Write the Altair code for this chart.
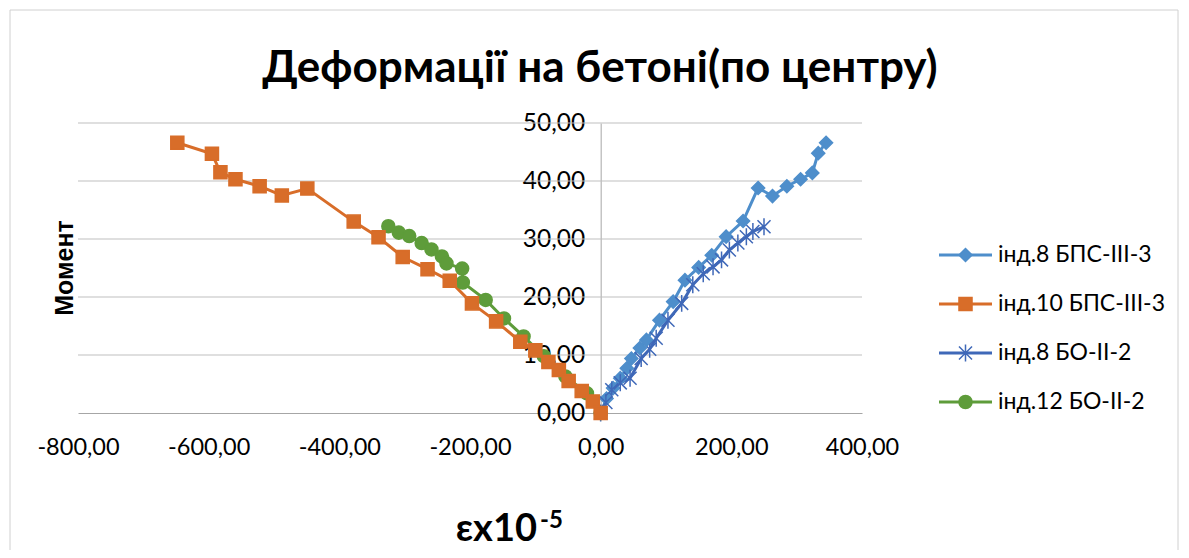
import altair as alt
import pandas as pd

series_names = ["інд.8 БПС-III-3", "інд.10 БПС-III-3", "інд.8 БО-II-2", "інд.12 БО-II-2"]

s1_x = [0, 9, 19, 30, 40, 47, 60, 70, 90, 111, 129, 150, 170, 192, 218, 241, 263, 285, 306, 324, 333, 345]
s1_y = [0, 2.5, 4.3, 6.0, 7.7, 9.4, 11.2, 12.6, 16.0, 19.2, 22.9, 25.1, 27.2, 30.4, 33.1, 38.8, 37.4, 39.1, 40.3, 41.4, 44.8, 46.6]

s2_x = [-648, -595, -582, -559, -522, -488, -449, -378, -340, -303, -265, -231, -197, -160, -123, -100, -80, -64, -49, -29, -12, 0]
s2_y = [46.6, 44.7, 41.5, 40.3, 39.1, 37.5, 38.7, 33.0, 30.3, 26.9, 24.8, 22.8, 18.9, 15.8, 12.3, 10.8, 8.8, 7.4, 5.5, 3.8, 2.0, 0]

s3_x = [0, 8, 17, 30, 45, 62, 75, 85, 103, 124, 141, 157, 172, 185, 197, 210, 223, 233, 250]
s3_y = [0, 1.8, 4.0, 5.2, 6.0, 9.4, 11.0, 12.9, 16.0, 18.9, 22.1, 24.0, 25.2, 26.4, 28.1, 29.3, 30.4, 31.3, 32.1]

s4_x = [-325, -309, -293, -274, -259, -243, -236, -212, -211, -176, -148, -118, -87, -54, -21, 0]
s4_y = [32.2, 31.1, 30.5, 29.3, 28.2, 27.0, 25.8, 24.9, 22.5, 19.5, 16.3, 13.2, 9.8, 6.3, 3.4, 0]

x_ticks = [-800, -600, -400, -200, 0, 200, 400]
y_ticks = [0, 10, 20, 30, 40, 50]

chart_title = "Деформації на бетоні(по центру)"
y_title = "Момент"
x_title_main = "εx10"
x_title_sup = "-5"

rows = []
for name, xs, ys in zip(series_names, [s1_x, s2_x, s3_x, s4_x], [s1_y, s2_y, s3_y, s4_y]):
    for i, (xv, yv) in enumerate(zip(xs, ys)):
        rows.append({"series": name, "idx": i, "x": xv, "y": yv})
df = pd.DataFrame(rows)
leg_df = pd.DataFrame({"series": series_names})
one = pd.DataFrame({"a": [0]})
grid_df = pd.DataFrame({"v": y_ticks[1:]})

W, H = 784, 290
colors = ["#4E8ECB", "#D86D29", "#3F68B8", "#5E9C3A"]
shapes = ["diamond", "square", "M-1,-1L1,1M1,-1L-1,1M0,-1.3L0,1.3", "circle"]
sizes = [170, 170, 120, 150]

color_scale = alt.Scale(domain=series_names, range=colors)
shape_scale = alt.Scale(domain=series_names, range=shapes)
size_scale = alt.Scale(domain=series_names, range=sizes)
x_scale = alt.Scale(domain=[-800, 400], nice=False, zero=False)
y_scale = alt.Scale(domain=[0, 50], nice=False)

lab = "replace(replace(format(datum.value, '.2f'), '.', ','), '\u2212', '-')"
LABEL_FONT = "Lato"

x_axis = alt.Axis(values=x_ticks, labelExpr=lab, grid=False, ticks=False, domainColor="#A6A6A6",
                  labelFont=LABEL_FONT, labelFontSize=23.5, labelColor="#000000", labelPadding=22,
                  title=None, labelFlush=False, labelOverlap=False)
y_axis = alt.Axis(values=y_ticks, labelExpr=lab, grid=False, ticks=False, domainColor="#A6A6A6",
                  labelFont=LABEL_FONT, labelFontSize=24.5, labelColor="#000000", labelPadding=16,
                  title=None, offset=-W * 800 / 1200, labelOverlap=False)


def X(field):
    return alt.X(field, scale=x_scale, axis=x_axis)


def Y(field, axis=None):
    return alt.Y(field, scale=y_scale, axis=axis)


col = alt.Color("series:N", scale=color_scale, legend=None)

grid = alt.Chart(grid_df).mark_rule(color="#BFBFBF", strokeWidth=1).encode(
    y=Y("v:Q"), x=alt.value(0), x2=alt.value(W))

lines = alt.Chart(df).mark_line(strokeWidth=3).encode(
    x=X("x:Q"), y=Y("y:Q", y_axis), color=col, detail="series:N", order="idx:Q")

points = alt.Chart(df).mark_point(filled=True, opacity=1, strokeWidth=1.5).encode(
    x=X("x:Q"), y=Y("y:Q"), color=col,
    stroke=alt.Stroke("series:N", scale=color_scale, legend=None),
    shape=alt.Shape("series:N", scale=shape_scale, legend=None),
    size=alt.Size("series:N", scale=size_scale, legend=None),
    order="idx:Q")

leg_y = alt.Y("series:N", scale=alt.Scale(type="point", domain=series_names, range=[132, 279], padding=0), axis=None)
LX = 861
leg_rule = alt.Chart(leg_df).mark_rule(strokeWidth=3).encode(
    y=leg_y, x=alt.value(LX), x2=alt.value(LX + 53), color=col)
leg_pt = alt.Chart(leg_df).mark_point(filled=True, opacity=1, strokeWidth=1.5).encode(
    y=leg_y, x=alt.value(LX + 26.5), color=col,
    stroke=alt.Stroke("series:N", scale=color_scale, legend=None),
    shape=alt.Shape("series:N", scale=shape_scale, legend=None),
    size=alt.Size("series:N", scale=size_scale, legend=None))
leg_txt = alt.Chart(leg_df).mark_text(align="left", baseline="middle", font=LABEL_FONT, fontSize=23,
                                      color="#000000").encode(
    y=leg_y, x=alt.value(LX + 59), text="series:N")

frame = alt.Chart(one).mark_rect(fill=None, stroke="#D0D0D0", strokeWidth=1).encode(
    x=alt.value(-68), x2=alt.value(1100), y=alt.value(-113), y2=alt.value(445))

title_txt = alt.Chart(one).mark_text(align="center", baseline="middle", font=LABEL_FONT, fontSize=44,
                                     fontWeight="bold", color="#000000").encode(
    x=alt.value(522), y=alt.value(-54), text=alt.value(chart_title))
ytitle_txt = alt.Chart(one).mark_text(align="center", baseline="middle", font="Liberation Sans", fontSize=25,
                                      fontWeight="bold", angle=270, color="#000000").encode(
    x=alt.value(-13), y=alt.value(H / 2), text=alt.value(y_title))
xtitle_main = alt.Chart(one).mark_text(align="right", baseline="alphabetic", font=LABEL_FONT, fontSize=38,
                                       fontWeight="bold", color="#000000").encode(
    x=alt.value(459), y=alt.value(418), text=alt.value(x_title_main))
xtitle_sup = alt.Chart(one).mark_text(align="left", baseline="alphabetic", font=LABEL_FONT, fontSize=24,
                                      fontWeight="bold", color="#000000").encode(
    x=alt.value(462), y=alt.value(405), text=alt.value(x_title_sup))

chart = alt.layer(
    frame, grid, lines, points, leg_rule, leg_pt, leg_txt, title_txt, ytitle_txt, xtitle_main, xtitle_sup
).resolve_scale(y="independent").properties(
    width=W, height=H,
    autosize=alt.AutoSizeParams(type="none"),
    padding={"left": 70, "top": 115, "right": 319, "bottom": 137},
    background="#FFFFFF",
).configure_view(stroke=None)

chart.save("out.html", embed_options={"renderer": "svg", "actions": False})
